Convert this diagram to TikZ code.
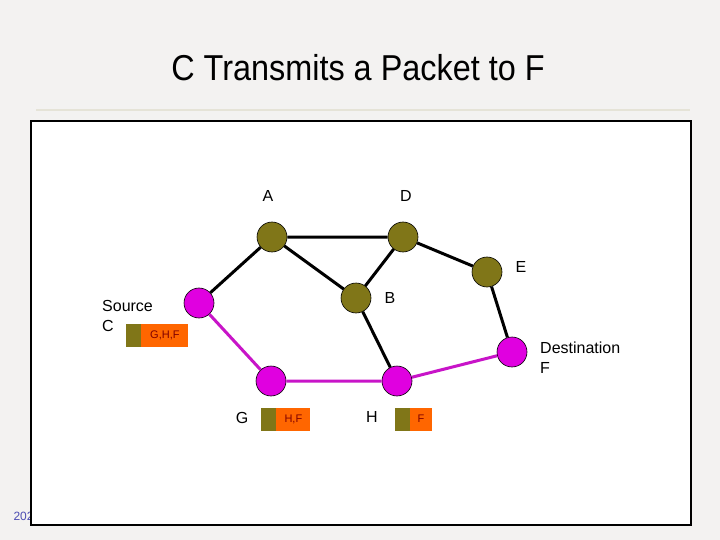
\documentclass[tikz,border=0pt]{standalone}
\usepackage{fontspec}
\setmainfont{Liberation Sans}
\definecolor{olv}{RGB}{128,118,24}
\definecolor{mg}{RGB}{224,0,224}
\definecolor{mgl}{RGB}{200,20,200}
\definecolor{org}{RGB}{255,102,0}
\begin{document}
\begin{tikzpicture}[x=1pt,y=-1pt,
 olv/.style={circle,draw=black,line width=0.6pt,fill=olv,minimum size=30pt,inner sep=0},
 mag/.style={circle,draw=black,line width=0.6pt,fill=mg,minimum size=30pt,inner sep=0},
 bl/.style={line width=3pt,black},
 ml/.style={line width=3pt,mgl},
 lbl/.style={font=\fontsize{16pt}{20pt}\selectfont,align=left,inner sep=0},
 hdr/.style={fill=olv,minimum width=15pt,minimum height=23pt,inner sep=0},
 pay/.style={fill=org,minimum height=23pt,inner sep=0,font=\fontsize{11pt}{12pt}\selectfont,text=red!50!black,anchor=west}]
\useasboundingbox (0,0) rectangle (720,540);
\fill[yellow!6!gray!12] (0,0) rectangle (720,540);
\draw[line width=2.5pt,yellow!20!gray!30] (36,110) -- (690,110);
\node[font=\fontsize{36pt}{40pt}\selectfont,xscale=0.9] (title) at (358,68) {C Transmits a Packet to F};
\node[font=\fontsize{12pt}{14pt}\selectfont,anchor=west,text=blue!40!gray] (pg) at (10,516) {202};
\draw[fill=white,line width=1.2pt] (31,121) rectangle (691,525);
\node[olv] (A) at (272,237) {};
\node[olv] (D) at (403,237) {};
\node[olv] (E) at (487,272) {};
\node[olv] (B) at (356,298) {};
\node[mag] (C) at (199,303) {};
\node[mag] (G) at (271,381) {};
\node[mag] (H) at (397,381) {};
\node[mag] (F) at (512,352) {};
\draw[bl] (C)--(A) (A)--(D) (A)--(B) (D)--(B) (D)--(E) (E)--(F) (B)--(H);
\draw[ml] (C)--(G) (G)--(H) (H)--(F);
\node[lbl] (lA) at (268,196) {A};
\node[lbl] (lD) at (406,196) {D};
\node[lbl] (lE) at (521,267) {E};
\node[lbl] (lB) at (390,298) {B};
\node[lbl,anchor=north west] (lC) at (102,300) {Source\\C};
\node[lbl,anchor=north west] (lF) at (540,342) {Destination\\F};
\node[lbl] (lG) at (242,418) {G};
\node[lbl] (lH) at (372,417) {H};
\node[hdr] (hc) at (133.5,335) {};
\node[pay,minimum width=47pt] (pc) at (hc.east) {G,H,F};
\node[hdr] (hg) at (268.5,419) {};
\node[pay,minimum width=34pt] (pg2) at (hg.east) {H,F};
\node[hdr] (hh) at (402,419) {};
\node[pay,minimum width=22pt] (ph) at (hh.east) {F};
\end{tikzpicture}
\end{document}
